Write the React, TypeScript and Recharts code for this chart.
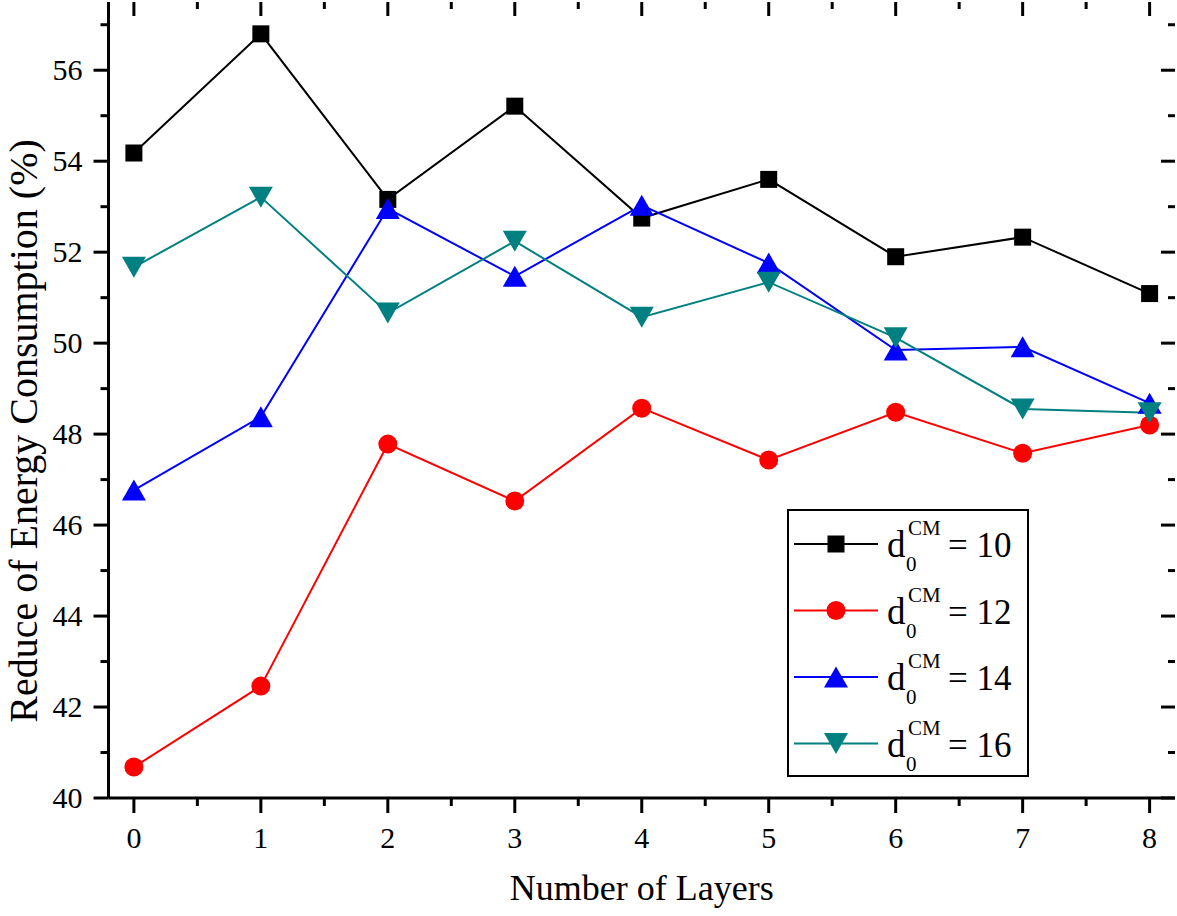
import React from 'react';
import { LineChart, Line, XAxis, YAxis, Legend, Label } from 'recharts';

const layers = [0, 1, 2, 3, 4, 5, 6, 7, 8];
const d10 = [54.18, 56.8, 53.16, 55.21, 52.75, 53.6, 51.9, 52.33, 51.09];
const d12 = [40.68, 42.46, 47.78, 46.53, 48.57, 47.43, 48.48, 47.58, 48.2];
const d14 = [46.77, 48.38, 52.96, 51.47, 53.03, 51.76, 49.85, 49.92, 48.68];
const d16 = [51.67, 53.21, 50.66, 52.24, 50.57, 51.34, 50.12, 48.55, 48.47];

const seriesKeys = ['d10', 'd12', 'd14', 'd16'];
const seriesLabels = ['10', '12', '14', '16'];
const seriesColors = ['#000000', '#ff0000', '#0000ff', '#008080'];
const seriesShapes = ['square', 'circle', 'up', 'down'];

const xTicks = [0, 0.5, 1, 1.5, 2, 2.5, 3, 3.5, 4, 4.5, 5, 5.5, 6, 6.5, 7, 7.5, 8];
const yTicks = [40, 41, 42, 43, 44, 45, 46, 47, 48, 49, 50, 51, 52, 53, 54, 55, 56, 57];
const xDomain = [-0.2, 8.2];
const yDomain = [40, 57.5];

const xTitle = 'Number of Layers';
const yTitle = 'Reduce of Energy Consumption (%)';

const data = layers.map((layer, i) => ({
  layer,
  d10: d10[i],
  d12: d12[i],
  d14: d14[i],
  d16: d16[i],
}));

const WIDTH = 1177;
const HEIGHT = 916;
const MARGIN = { top: 2, right: 2, bottom: 0, left: 0 };
const PLOT_TOP = MARGIN.top;
const PLOT_RIGHT = WIDTH - MARGIN.right;

const FONT = "'Liberation Serif', 'Times New Roman', serif";
const AXIS_STYLE = { stroke: '#000', strokeWidth: 3 };

function Marker({ shape, cx, cy, color }: { shape: string; cx: number; cy: number; color: string }) {
  if (shape === 'square') {
    return <rect x={cx - 8.5} y={cy - 8.5} width={17} height={17} fill={color} />;
  }
  if (shape === 'circle') {
    return <circle cx={cx} cy={cy} r={9.5} fill={color} />;
  }
  if (shape === 'up') {
    return <polygon points={`${cx},${cy - 10.5} ${cx - 12},${cy + 10.5} ${cx + 12},${cy + 10.5}`} fill={color} />;
  }
  return <polygon points={`${cx},${cy + 10.5} ${cx - 12},${cy - 10.5} ${cx + 12},${cy - 10.5}`} fill={color} />;
}

const makeDot = (shape: string, color: string) => (props: any) => {
  const { cx, cy, index } = props;
  if (cx == null || cy == null) return <g key={`e-${index}`} />;
  return (
    <g key={`dot-${shape}-${index}`}>
      <Marker shape={shape} cx={cx} cy={cy} color={color} />
    </g>
  );
};

const isMajorX = (v: number) => Number.isInteger(v);
const isMajorY = (v: number) => v % 2 === 0;

const BottomTick = (props: any) => {
  const { x, y, payload } = props;
  const v = payload.value;
  const major = isMajorX(v);
  return (
    <g>
      <line x1={x} x2={x} y1={y} y2={y + (major ? 15 : 8)} stroke="#000" strokeWidth={3} />
      <line x1={x} x2={x} y1={PLOT_TOP} y2={PLOT_TOP + (major ? 14 : 7)} stroke="#000" strokeWidth={3} />
      {major && (
        <text x={x} y={y + 50} textAnchor="middle" fontSize={30} fontFamily={FONT} fill="#000">
          {v}
        </text>
      )}
    </g>
  );
};

const LeftTick = (props: any) => {
  const { x, y, payload } = props;
  const v = payload.value;
  const major = isMajorY(v);
  return (
    <g>
      <line x1={x} x2={x - (major ? 15 : 8)} y1={y} y2={y} stroke="#000" strokeWidth={3} />
      <line x1={PLOT_RIGHT} x2={PLOT_RIGHT - (major ? 14 : 7)} y1={y} y2={y} stroke="#000" strokeWidth={3} />
      {major && (
        <text x={x - 26} y={y + 10} textAnchor="end" fontSize={30} fontFamily={FONT} fill="#000">
          {v}
        </text>
      )}
    </g>
  );
};

const LegendBox = () => {
  const rowH = 66.5;
  return (
    <svg width={242} height={268} style={{ display: 'block', overflow: 'visible' }}>
      <rect x={1} y={1} width={240} height={266} fill="#fff" stroke="#000" strokeWidth={2} />
      {seriesKeys.map((k, i) => {
        const cy = 35 + i * rowH;
        return (
          <g key={k} fontFamily={FONT} fill="#000">
            <line x1={7} x2={91} y1={cy} y2={cy} stroke={seriesColors[i]} strokeWidth={2} />
            <Marker shape={seriesShapes[i]} cx={49} cy={cy} color={seriesColors[i]} />
            <text x={100} y={cy + 13} fontSize={37}>d</text>
            <text x={121} y={cy - 9} fontSize={21}>CM</text>
            <text x={119} y={cy + 27} fontSize={21}>0</text>
            <text x={161} y={cy + 13} fontSize={35}>{`= ${seriesLabels[i]}`}</text>
          </g>
        );
      })}
    </svg>
  );
};

export default function App() {
  return (
    <div style={{ position: 'absolute', left: 0, top: 0, width: WIDTH, height: HEIGHT, background: '#fff' }}>
      <LineChart width={WIDTH} height={HEIGHT} data={data} margin={MARGIN}>
        <XAxis
          xAxisId="bottom"
          dataKey="layer"
          type="number"
          domain={xDomain}
          allowDataOverflow
          ticks={xTicks}
          interval={0}
          height={118}
          tickSize={0}
          tickMargin={0}
          tickLine={false}
          axisLine={AXIS_STYLE}
          stroke="#000"
          strokeWidth={3}
          tick={<BottomTick />}
        >
          <Label
            content={(p: any) => {
              const vb = p.viewBox || { x: 108.5, y: 798, width: 1066.5 };
              return (
                <text x={vb.x + vb.width / 2} y={vb.y + 102} textAnchor="middle" fontSize={36} fontFamily={FONT} fill="#000">
                  {xTitle}
                </text>
              );
            }}
          />
        </XAxis>
        <XAxis
          xAxisId="top"
          orientation="top"
          type="number"
          domain={xDomain}
          allowDataOverflow
          ticks={xTicks}
          height={0}
          tickLine={false}
          axisLine={AXIS_STYLE}
          stroke="#000"
          strokeWidth={3}
          tick={false}
        />
        <YAxis
          yAxisId="left"
          type="number"
          domain={yDomain}
          allowDataOverflow
          ticks={yTicks}
          interval={0}
          width={108.5}
          tickSize={0}
          tickMargin={0}
          tickLine={false}
          axisLine={AXIS_STYLE}
          stroke="#000"
          strokeWidth={3}
          tick={<LeftTick />}
        >
          <Label
            content={(p: any) => {
              const vb = p.viewBox || { x: 0, y: 2, height: 796 };
              const cx = vb.x + 37;
              const cy = vb.y + vb.height / 2 + 31;
              return (
                <text
                  transform={`translate(${cx},${cy}) rotate(-90)`}
                  textAnchor="middle"
                  fontSize={40}
                  fontFamily={FONT}
                  fill="#000"
                >
                  {yTitle}
                </text>
              );
            }}
          />
        </YAxis>
        <YAxis
          yAxisId="right"
          orientation="right"
          type="number"
          domain={yDomain}
          allowDataOverflow
          ticks={yTicks}
          width={0}
          tickLine={false}
          axisLine={AXIS_STYLE}
          stroke="#000"
          strokeWidth={3}
          tick={false}
        />
        <Legend
          verticalAlign="middle"
          align="center"
          layout="horizontal"
          wrapperStyle={{ position: 'absolute', left: 787, top: 509, width: 242, height: 268 }}
          content={() => <LegendBox />}
        />
        {seriesKeys.map((k, i) => (
          <Line
            key={k}
            xAxisId="bottom"
            yAxisId="left"
            type="linear"
            dataKey={k}
            name={`d0CM = ${seriesLabels[i]}`}
            stroke={seriesColors[i]}
            strokeWidth={2}
            dot={makeDot(seriesShapes[i], seriesColors[i])}
            activeDot={false}
            isAnimationActive={false}
          />
        ))}
      </LineChart>
    </div>
  );
}
